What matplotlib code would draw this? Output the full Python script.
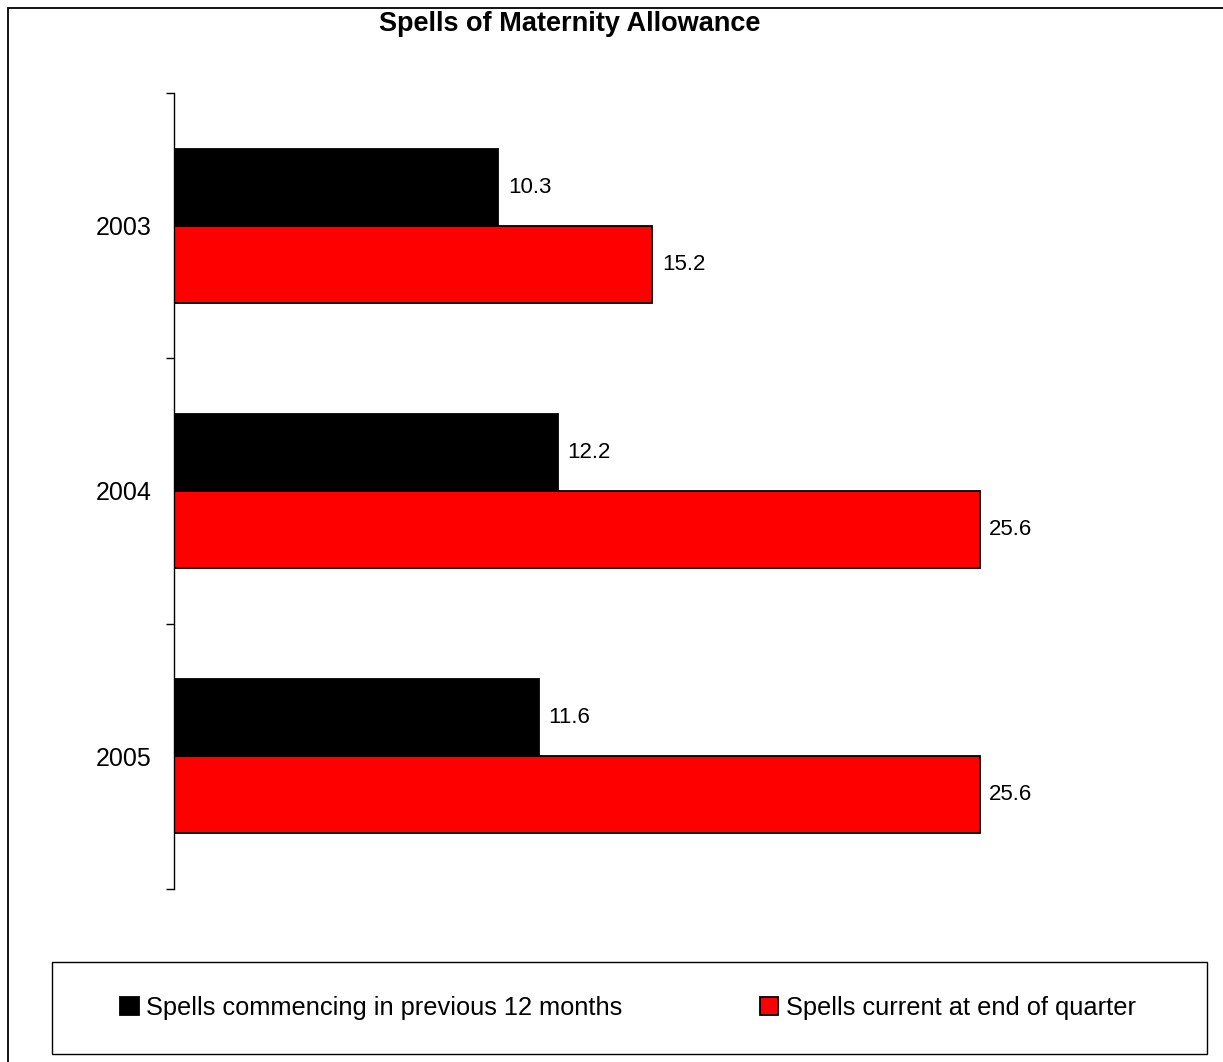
import numpy as np
import matplotlib
matplotlib.use('Agg')
import matplotlib.pyplot as plt
from matplotlib.patches import Rectangle

plt.rcParams['font.family'] = ['Liberation Sans', 'DejaVu Sans']

years = ['2003', '2004', '2005']
commencing = [10.3, 12.2, 11.6]
current = [15.2, 25.6, 25.6]
series_names = ['Spells commencing in previous 12 months',
                'Spells current at end of quarter']
series_colors = ['#000000', '#ff0000']

W, H = 1223, 1062


def px(x0, y0, x1, y1):
    # pixel box (top-left origin) -> figure fraction rect
    return [x0 / W, 1 - y1 / H, (x1 - x0) / W, (y1 - y0) / H]


def main():
    fig = plt.figure(figsize=(W / 100, H / 100), dpi=100)
    fig.patch.set_facecolor('white')

    # outer chart border (only top and left edge fall inside the picture)
    fig.add_artist(Rectangle((8 / W, -0.05), 1.1, 1 - 8 / H + 0.05,
                             transform=fig.transFigure, fill=False,
                             edgecolor='black', lw=1.3))

    ax = fig.add_axes(px(174, 93, 1118, 889))
    y = np.arange(len(years))
    h = 0.29
    bars1 = ax.barh(y - h / 2, commencing, height=h, color=series_colors[0],
                    edgecolor='black', lw=1.3, label=series_names[0])
    bars2 = ax.barh(y + h / 2, current, height=h, color=series_colors[1],
                    edgecolor='black', lw=1.3, label=series_names[1])
    for bars in (bars1, bars2):
        ax.bar_label(bars, labels=['%.1f' % b.get_width() for b in bars],
                     padding=7, fontsize=16)

    ax.set_xlim(0, 30)
    ax.set_ylim(len(years) - 0.5, -0.5)
    ax.set_yticks(y)
    ax.set_yticklabels(years, fontsize=18)
    ax.set_yticks(np.arange(len(years) + 1) - 0.5, minor=True)
    ax.tick_params(axis='y', which='major', length=0, pad=16)
    ax.tick_params(axis='y', which='minor', length=6, width=1, direction='out')
    ax.xaxis.set_visible(False)
    for s in ('top', 'right', 'bottom'):
        ax.spines[s].set_visible(False)
    ax.spines['left'].set_linewidth(1)

    fig.text(570 / W, 1 - 24 / H, 'Spells of Maternity Allowance',
             ha='center', va='center', fontsize=19.5, fontweight='bold')

    # legend box
    fig.add_artist(Rectangle((52 / W, 1 - 1054 / H), (1207 - 52) / W,
                             (1054 - 962) / H, transform=fig.transFigure,
                             fill=False, edgecolor='black', lw=1.0))
    fig.legend(handles=[bars1, bars2], loc='center',
               bbox_to_anchor=(628 / W, 1 - 1008 / H), ncol=2,
               frameon=False, fontsize=18.3, handlelength=0.72,
               handleheight=0.72, handletextpad=0.3, columnspacing=5.4)

    fig.savefig('out.png', dpi=100)


if __name__ == '__main__':
    main()
